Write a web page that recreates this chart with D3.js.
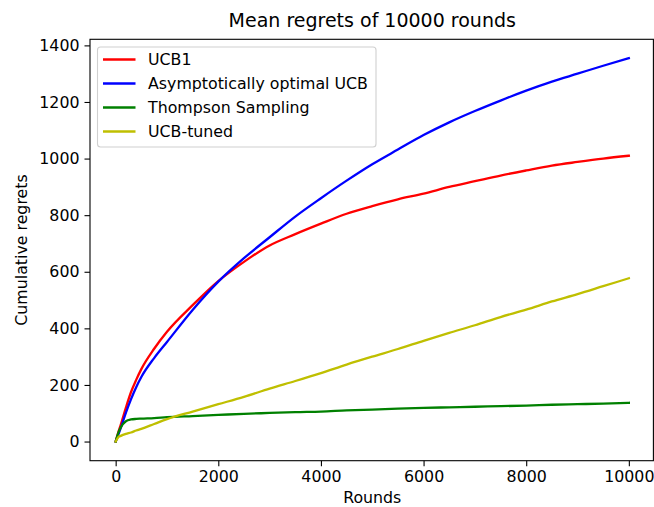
<!DOCTYPE html>
<html>
<head>
<meta charset="utf-8">
<script src="https://cdn.jsdelivr.net/npm/d3@7"></script>
<style>
  html, body { margin: 0; padding: 0; background: #fff; }
  svg { display: block; font-family: "DejaVu Sans", sans-serif; }
</style>
</head>
<body>
<svg id="chart" width="654" height="507"></svg>
<script>
const rounds = [0, 50, 100, 200, 300, 400, 500, 750, 1000, 1500, 2000, 2500, 3000, 3500, 4000, 4500, 5000, 5500, 6000, 6500, 7000, 7500, 8000, 8500, 9000, 9500, 10000];
const ucb1 =        [0, 32, 60, 120, 175, 218, 256, 328, 388, 482, 567, 635, 693, 733, 770, 805, 832, 856, 876, 900, 920, 940, 958, 975, 988, 1000, 1010];
const asymUCB =     [0, 24, 48, 102, 150, 192, 228, 295, 352, 465, 565, 648, 722, 795, 860, 922, 980, 1032, 1083, 1128, 1168, 1205, 1240, 1272, 1300, 1328, 1355];
const thompson =    [0, 30, 50, 72, 78, 80, 81, 83, 86, 90, 94, 98, 101, 104, 106, 110, 113, 116, 119, 121, 123, 125, 127, 130, 132, 134, 137];
const ucbTuned =    [0, 15, 20, 27, 32, 39, 45, 62, 79, 106, 132, 158, 187, 214, 242, 272, 300, 327, 356, 384, 411, 440, 466, 495, 521, 549, 577];

const seriesNames = ["UCB1", "Asymptotically optimal UCB", "Thompson Sampling", "UCB-tuned"];
const seriesValues = [ucb1, asymUCB, thompson, ucbTuned];
const seriesColors = ["#ff0000", "#0000ff", "#008000", "#bfbf00"];

const xTicks = [0, 2000, 4000, 6000, 8000, 10000];
const yTicks = [0, 200, 400, 600, 800, 1000, 1200, 1400];

const titleText = "Mean regrets of 10000 rounds";
const xLabel = "Rounds";
const yLabel = "Cumulative regrets";

const svg = d3.select("#chart");
const L = 90, R = 654.5, T = 39.3, B = 460.7;
const fs = 15.8;

const x = d3.scaleLinear().domain([-500, 10500]).range([L, R]);
const y = d3.scaleLinear().domain([-67.7, 1421.5]).range([B, T]);

// Lines
const line = d3.line().x(d => x(d[0])).y(d => y(d[1])).curve(d3.curveMonotoneX);
const plot = svg.append("g");
seriesValues.forEach((vals, i) => {
  plot.append("path")
    .datum(rounds.map((r, j) => [r, vals[j]]))
    .attr("fill", "none")
    .attr("stroke", seriesColors[i])
    .attr("stroke-width", 2.3)
    .attr("stroke-linejoin", "round")
    .attr("stroke-linecap", "square")
    .attr("d", line);
});

// Axes
const xAxis = d3.axisBottom(x).tickValues(xTicks).tickFormat(d3.format("d")).tickSize(5.5).tickPadding(5);
const yAxis = d3.axisLeft(y).tickValues(yTicks).tickFormat(d3.format("d")).tickSize(5.5).tickPadding(5);

const gx = svg.append("g").attr("transform", `translate(0,${B})`).call(xAxis);
const gy = svg.append("g").attr("transform", `translate(${L},0)`).call(yAxis);
[gx, gy].forEach(g => {
  g.select(".domain").remove();
  g.selectAll(".tick line").attr("stroke", "#000").attr("stroke-width", 1.1);
  g.selectAll(".tick text").attr("fill", "#000").style("font-size", fs + "px").style("font-family", "DejaVu Sans");
});

// Spines
svg.append("rect")
  .attr("x", L).attr("y", T)
  .attr("width", 653.4 - L).attr("height", B - T)
  .attr("fill", "none").attr("stroke", "#000").attr("stroke-width", 1.1);

// Title & labels
svg.append("text").attr("x", (L + R) / 2).attr("y", 27)
  .attr("text-anchor", "middle").style("font-size", "19px").attr("fill", "#000").text(titleText);
svg.append("text").attr("x", (L + R) / 2).attr("y", 503)
  .attr("text-anchor", "middle").style("font-size", fs + "px").attr("fill", "#000").text(xLabel);
svg.append("text").attr("transform", `translate(27,${(T + B) / 2}) rotate(-90)`)
  .attr("text-anchor", "middle").style("font-size", fs + "px").attr("fill", "#000").text(yLabel);

// Legend
const lg = svg.append("g");
lg.append("rect").attr("x", 97.5).attr("y", 47).attr("width", 278.5).attr("height", 100)
  .attr("rx", 3).attr("fill", "#fff").attr("fill-opacity", 0.8)
  .attr("stroke", "#d0d0d0").attr("stroke-width", 1.1);
seriesNames.forEach((name, i) => {
  const cy = 59.5 + i * 24;
  lg.append("line").attr("x1", 103).attr("x2", 135.5).attr("y1", cy).attr("y2", cy)
    .attr("stroke", seriesColors[i]).attr("stroke-width", 2.3);
  lg.append("text").attr("x", 148).attr("y", cy).attr("dy", "0.36em")
    .style("font-size", fs + "px").attr("fill", "#000").text(name);
});
</script>
</body>
</html>
